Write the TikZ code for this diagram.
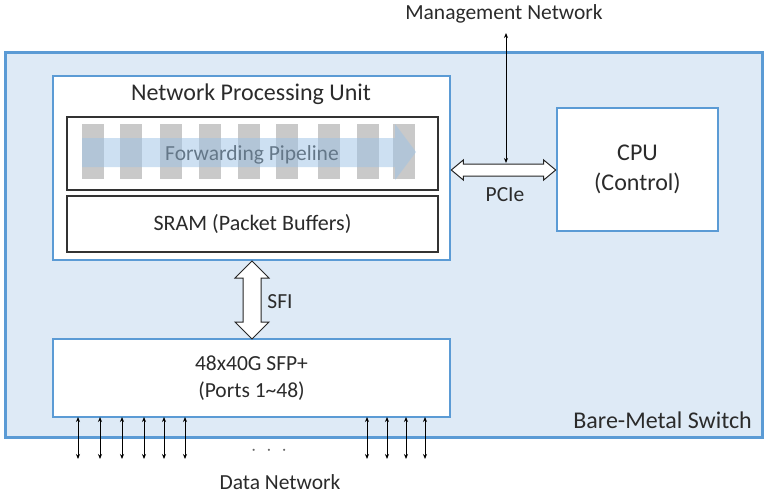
\documentclass[tikz,border=0pt]{standalone}
\usepackage{fontspec}
\setmainfont{Carlito}
\usetikzlibrary{arrows.meta,calc}
\definecolor{swblue}{HTML}{5B9BD5}
\definecolor{swfill}{HTML}{DEEAF6}
\definecolor{txt}{HTML}{2B2B2B}
\definecolor{bargray}{HTML}{C9C9C9}
\definecolor{pipeblue}{HTML}{9DC3E6}
\begin{document}
\begin{tikzpicture}[x=1pt,y=-1pt,
  every node/.style={font=\fontsize{21.5}{27}\selectfont, text=txt},
  big/.style={font=\fontsize{24}{30}\selectfont},
  bluebox/.style={draw=swblue, line width=2.6pt, fill=white, inner sep=0pt},
  blackbox/.style={draw=black!80, line width=1.3pt, fill=white, inner sep=0pt},
  fatarrow/.style={draw=black!85, line width=1pt, fill=white, line join=miter},
  portarrow/.style={draw=black, line width=1pt, {Stealth[length=5pt,width=4pt]}-{Stealth[length=5pt,width=4pt]}},
  lbl/.style={inner sep=0pt}]
\useasboundingbox (0,0) rectangle (784,495);
% outer switch
\node[draw=swblue, line width=3pt, fill=swfill, minimum width=757pt, minimum height=384pt, inner sep=0pt] (switch) at (383.5,245) {};
\node[lbl, big, anchor=east] (swlabel) at (752,420) {Bare-Metal Switch};
% NPU
\node[bluebox, minimum width=397pt, minimum height=184pt] (npu) at (251.5,168) {};
\node[lbl, big] (npulabel) at (251,94) {Network Processing Unit};
\node[blackbox, minimum width=371pt, minimum height=73pt] (pipe) at (252.5,153.5) {};
\node[blackbox, minimum width=371pt, minimum height=56pt, font=\fontsize{22}{27}\selectfont] (sram) at (252.5,224) {SRAM (Packet Buffers)};
% pipeline bars
\foreach \x [count=\i] in {82,120,160,199,238,276,318,357,393}
  \fill[bargray] (\x,124) rectangle ++(22,55);
\node[lbl] (pipelabel) at (252,155) {Forwarding Pipeline};
\fill[pipeblue, opacity=0.5] (82,138) -- (395,138) -- (395,124) -- (416,152) -- (395,180) -- (395,167) -- (82,167) -- cycle;
% CPU
\node[bluebox, big, minimum width=161pt, minimum height=123pt, align=center] (cpu) at (637.5,169.5) {CPU\\(Control)};
% ports
\node[bluebox, minimum width=397pt, minimum height=78pt, align=center] (ports) at (251.5,378) {48x40G SFP+\\(Ports 1\char`~48)};
% PCIe arrow
\draw[fatarrow] (npu.east |- 0,170) -- ++(12,-10) -- ++(0,4) -- ($(cpu.west |- 0,164)+(-12,0)$) -- ++(0,-4) -- (cpu.west |- 0,170) -- ++(-12,10) -- ++(0,-4) -- ($(npu.east |- 0,176)+(12,0)$) -- ++(0,4) -- cycle;
\node[lbl] (pcie) at (505,195) {PCIe};
% management
\node[lbl] (mgmt) at (504,14) {Management Network};
\coordinate (mtop) at (506,33);
\coordinate (mbot) at (506,163);
\draw[portarrow] (mtop) -- (mbot);
% SFI arrow
\draw[fatarrow] (252,261) -- ++(17,17) -- ++(-8,0) -- (261,322) -- ++(8,0) -- (252,339) -- ++(-17,-17) -- ++(8,0) -- (243,278) -- ++(-8,0) -- cycle;
\node[lbl] (sfi) at (280,302) {SFI};
% data ports
\foreach \x [count=\i] in {78,100,122,144,164,185,367,387,406,425}{
  \coordinate (pt\i) at (\x,417);
  \coordinate (pb\i) at (\x,459);
  \draw[portarrow] (pt\i) -- (pb\i);
}
\node[lbl, text=black!60] (dots) at (269,451) {$\cdot\ \cdot\ \cdot$};
\node[lbl] (data) at (280,482) {Data Network};
\end{tikzpicture}
\end{document}
